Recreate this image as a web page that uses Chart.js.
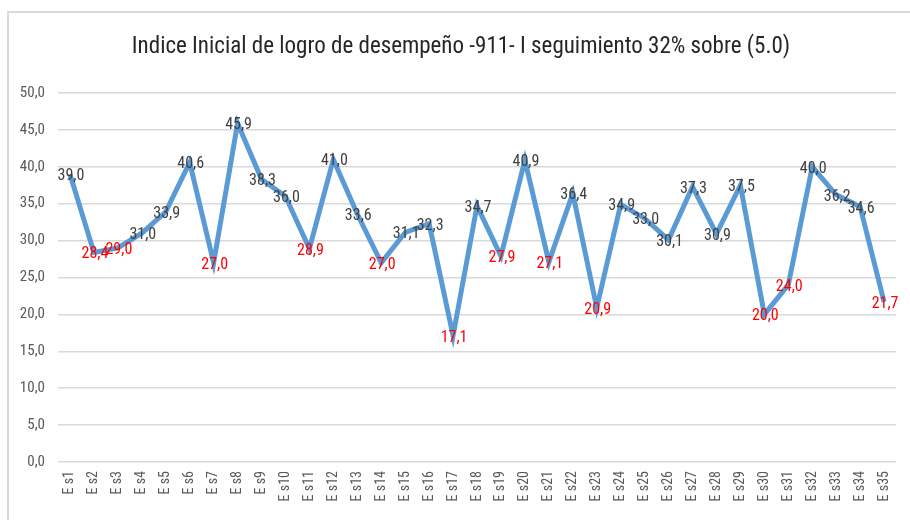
<!DOCTYPE html>
<html>
<head>
<meta charset="utf-8">
<script src="https://cdn.jsdelivr.net/npm/chart.js@4/dist/chart.umd.min.js"></script>
<style>
html,body{margin:0;padding:0;background:#fff;}
#wrap{position:relative;width:910px;height:520px;}
</style>
</head>
<body>
<div id="wrap"><canvas id="c" width="910" height="520"></canvas></div>
<script>
const categories = ["E s1","E s2","E s3","E s4","E s5","E s6","E s7","E s8","E s9","E s10",
  "E s11","E s12","E s13","E s14","E s15","E s16","E s17","E s18","E s19","E s20",
  "E s21","E s22","E s23","E s24","E s25","E s26","E s27","E s28","E s29","E s30",
  "E s31","E s32","E s33","E s34","E s35"];
const values = [39.0,28.4,29.0,31.0,33.9,40.6,27.0,45.9,38.3,36.0,
  28.9,41.0,33.6,27.0,31.1,32.3,17.1,34.7,27.9,40.9,
  27.1,36.4,20.9,34.9,33.0,30.1,37.3,30.9,37.5,20.0,
  24.0,40.0,36.2,34.6,21.7];
const titleText = "Indice Inicial de logro de desempeño -911- I seguimiento 32% sobre (5.0)";
const threshold = 30;

const FONT = "'Liberation Sans Narrow', 'Roboto Condensed', 'Open Sans', sans-serif";

const fmt = v => v.toFixed(1).replace('.', ',');

const framePlugin = {
  id: 'frame',
  beforeDraw(chart) {
    const ctx = chart.ctx;
    ctx.save();
    ctx.strokeStyle = '#d9d9d9';
    ctx.lineWidth = 2;
    ctx.beginPath();
    ctx.moveTo(8, 520);
    ctx.lineTo(8, 12);
    ctx.lineTo(910, 12);
    ctx.stroke();
    ctx.fillStyle = '#262626';
    ctx.font = "23px " + FONT;
    ctx.textAlign = 'center';
    ctx.textBaseline = 'middle';
    ctx.fillText(titleText, 461, 47);
    ctx.restore();
  }
};

const labelPlugin = {
  id: 'pointLabels',
  afterDatasetsDraw(chart) {
    const ctx = chart.ctx;
    const meta = chart.getDatasetMeta(0);
    ctx.save();
    ctx.font = "16px " + FONT;
    ctx.textAlign = 'center';
    ctx.textBaseline = 'middle';
    meta.data.forEach((pt, i) => {
      const v = values[i];
      ctx.fillStyle = v < threshold ? '#ff0000' : '#404040';
      ctx.fillText(fmt(v), pt.x + 1, pt.y + 2);
    });
    ctx.restore();
  }
};

new Chart(document.getElementById('c'), {
  type: 'line',
  data: {
    labels: categories,
    datasets: [{
      data: values,
      borderColor: '#5b9bd5',
      borderWidth: 5,
      pointRadius: 0,
      tension: 0,
      fill: false
    }]
  },
  options: {
    responsive: false,
    animation: false,
    layout: { padding: { left: 1, right: 10, top: 93, bottom: 0 } },
    plugins: {
      legend: { display: false },
      tooltip: { enabled: false },
      title: { display: false }
    },
    scales: {
      x: {
        offset: true,
        grid: { display: false, drawTicks: false },
        border: { display: false },
        ticks: {
          color: '#595959',
          font: { family: FONT, size: 14 },
          minRotation: 90,
          maxRotation: 90,
          autoSkip: false,
          padding: 9
        },
        afterFit(s) { s.height = 58; }
      },
      y: {
        min: 0,
        max: 50,
        grid: { color: '#d9d9d9', lineWidth: 1.5, drawTicks: false },
        border: { display: false },
        ticks: {
          stepSize: 5,
          color: '#595959',
          font: { family: FONT, size: 15 },
          padding: 13,
          callback: v => fmt(v)
        },
        afterFit(s) { s.width = 57; }
      }
    }
  },
  plugins: [framePlugin, labelPlugin]
});
</script>
</body>
</html>
